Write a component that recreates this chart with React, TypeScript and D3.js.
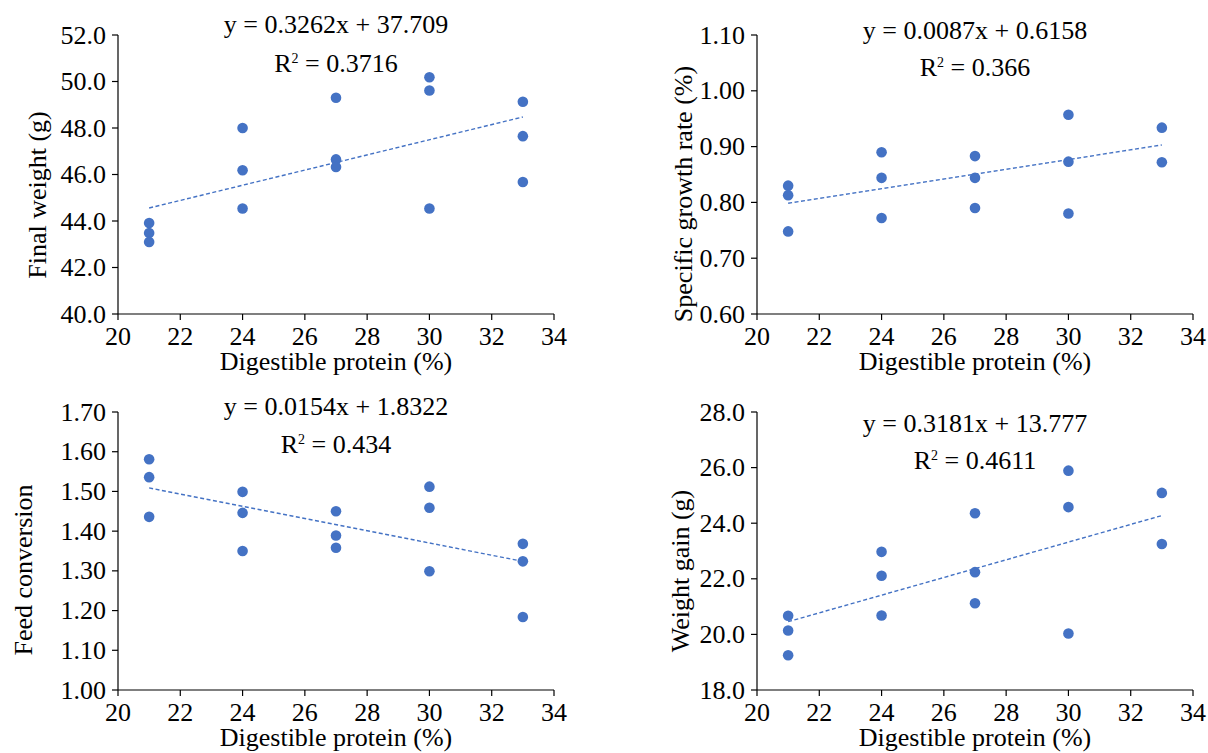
import React from 'react';
import * as d3 from 'd3';

// ---- Data ----
const xTicks = [20, 22, 24, 26, 28, 30, 32, 34];

const fwX = [21, 21, 21, 24, 24, 24, 27, 27, 27, 30, 30, 30, 33, 33, 33];
const finalWeight = [43.91, 43.48, 43.10, 48.00, 46.18, 44.54, 49.30, 46.65, 46.32, 50.18, 49.61, 44.54, 49.13, 47.65, 45.68];

const sgrX = [21, 21, 21, 24, 24, 24, 27, 27, 27, 30, 30, 30, 33, 33];
const sgr = [0.830, 0.813, 0.748, 0.890, 0.844, 0.772, 0.883, 0.844, 0.790, 0.957, 0.873, 0.780, 0.934, 0.872];

const fcrX = [21, 21, 21, 24, 24, 24, 27, 27, 27, 30, 30, 30, 33, 33, 33];
const fcr = [1.581, 1.536, 1.436, 1.499, 1.446, 1.350, 1.450, 1.389, 1.358, 1.512, 1.459, 1.299, 1.368, 1.324, 1.184];

const wgX = [21, 21, 21, 24, 24, 24, 27, 27, 27, 30, 30, 30, 33, 33];
const weightGain = [20.67, 20.14, 19.25, 22.97, 22.11, 20.68, 24.36, 22.24, 21.12, 25.89, 24.58, 20.03, 25.09, 23.25];

const slopes = [0.3262, 0.0087, -0.0154, 0.3181];
const intercepts = [37.709, 0.6158, 1.8322, 13.777];
const equations = ['y = 0.3262x + 37.709', 'y = 0.0087x + 0.6158', 'y = 0.0154x + 1.8322', 'y = 0.3181x + 13.777'];
const r2Values = ['0.3716', '0.366', '0.434', '0.4611'];
const yTitles = ['Final weight (g)', 'Specific growth rate (%)', 'Feed conversion', 'Weight gain (g)'];
const xTitle = 'Digestible protein (%)';

const yTicks1 = [40, 42, 44, 46, 48, 50, 52];
const yTicks2 = [0.6, 0.7, 0.8, 0.9, 1.0, 1.1];
const yTicks3 = [1.0, 1.1, 1.2, 1.3, 1.4, 1.5, 1.6, 1.7];
const yTicks4 = [18, 20, 22, 24, 26, 28];

// ---- Layout / style ----
const FONT = "'Liberation Serif', 'Times New Roman', serif";
const FS = 26;
const DOT = '#4472C4';

type PanelProps = {
  left: number; right: number; top: number; bottom: number;
  xs: number[]; ys: number[]; yTicks: number[]; yFmt: string;
  slope: number; intercept: number; eq: string; r2: string;
  eqY: number; r2Y: number; yTitle: string; yTitleX: number; yTitleY: number;
};

function Panel(p: PanelProps) {
  const x = d3.scaleLinear().domain([20, 34]).range([p.left, p.right]);
  const y = d3.scaleLinear().domain([p.yTicks[0], p.yTicks[p.yTicks.length - 1]]).range([p.bottom, p.top]);
  const fmt = d3.format(p.yFmt);
  const line = d3.line<number>().x(d => x(d)).y(d => y(p.slope * d + p.intercept));
  const cx = (p.left + p.right) / 2;
  return (
    <g fontFamily={FONT} fontSize={FS} fill="#000">
      {/* axes */}
      <line x1={p.left} x2={p.left} y1={p.top} y2={p.bottom} stroke="#000" strokeWidth={1.2} />
      <line x1={p.left} x2={p.right} y1={p.bottom} y2={p.bottom} stroke="#000" strokeWidth={1.2} />
      {p.yTicks.map(t => (
        <g key={'y' + t}>
          <line x1={p.left - 6} x2={p.left} y1={y(t)} y2={y(t)} stroke="#000" strokeWidth={1.2} />
          <text x={p.left - 12} y={y(t)} textAnchor="end" dominantBaseline="central">{fmt(t)}</text>
        </g>
      ))}
      {xTicks.map(t => (
        <g key={'x' + t}>
          <line x1={x(t)} x2={x(t)} y1={p.bottom} y2={p.bottom + 6} stroke="#000" strokeWidth={1.2} />
          <text x={x(t)} y={p.bottom + 31} textAnchor="middle">{t}</text>
        </g>
      ))}
      {/* trendline */}
      <path d={line([21, 33]) || ''} fill="none" stroke={DOT} strokeWidth={1.4} strokeDasharray="4,2.5" />
      {/* points */}
      {p.xs.map((xv, i) => (
        <circle key={i} cx={x(xv)} cy={y(p.ys[i])} r={5.3} fill={DOT} />
      ))}
      {/* equation */}
      <text x={cx} y={p.eqY} textAnchor="middle">{p.eq}</text>
      <text x={cx} y={p.r2Y} textAnchor="middle">
        <tspan>R</tspan>
        <tspan fontSize={14} dy={-9}>2</tspan>
        <tspan dy={9}>{' = ' + p.r2}</tspan>
      </text>
      {/* titles */}
      <text x={cx} y={p.bottom + 56} textAnchor="middle">{xTitle}</text>
      <text transform={`translate(${p.yTitleX},${p.yTitleY}) rotate(-90)`} textAnchor="middle">{p.yTitle}</text>
    </g>
  );
}

export default function App() {
  return (
    <svg width={1208} height={753} style={{ position: 'absolute', left: 0, top: 0, background: '#fff' }}>
      <rect width={1208} height={753} fill="#fff" />
      <Panel left={118} right={554} top={35} bottom={314} xs={fwX} ys={finalWeight} yTicks={yTicks1} yFmt=".1f"
        slope={slopes[0]} intercept={intercepts[0]} eq={equations[0]} r2={r2Values[0]} eqY={33} r2Y={72}
        yTitle={yTitles[0]} yTitleX={46} yTitleY={195} />
      <Panel left={757} right={1193} top={35} bottom={314} xs={sgrX} ys={sgr} yTicks={yTicks2} yFmt=".2f"
        slope={slopes[1]} intercept={intercepts[1]} eq={equations[1]} r2={r2Values[1]} eqY={39} r2Y={76}
        yTitle={yTitles[1]} yTitleX={692} yTitleY={194} />
      <Panel left={118} right={554} top={412} bottom={690} xs={fcrX} ys={fcr} yTicks={yTicks3} yFmt=".2f"
        slope={slopes[2]} intercept={intercepts[2]} eq={equations[2]} r2={r2Values[2]} eqY={415} r2Y={453}
        yTitle={yTitles[2]} yTitleX={32} yTitleY={570} />
      <Panel left={757} right={1193} top={412} bottom={690} xs={wgX} ys={weightGain} yTicks={yTicks4} yFmt=".1f"
        slope={slopes[3]} intercept={intercepts[3]} eq={equations[3]} r2={r2Values[3]} eqY={432} r2Y={469}
        yTitle={yTitles[3]} yTitleX={689} yTitleY={571} />
    </svg>
  );
}
